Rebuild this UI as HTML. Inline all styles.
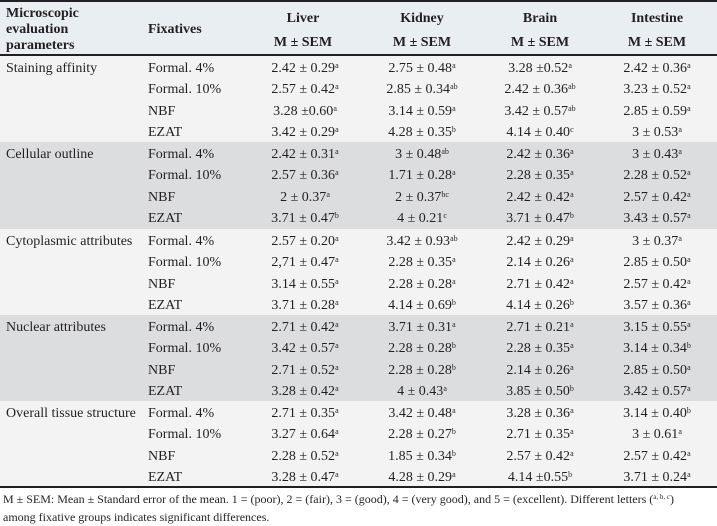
<!DOCTYPE html>
<html><head><meta charset="utf-8"><style>
*{margin:0;padding:0;box-sizing:border-box}
body{width:717px;height:525px;background:#fff;font-family:"Liberation Serif",serif;color:#231f20;position:relative;overflow:hidden;font-size:14px}
.top{position:absolute;left:0;top:0;width:717px;height:2px;background:#231f20}
.hdr{position:absolute;left:0;top:2px;width:717px;height:52px;background:#e9eef3}
.hl{position:absolute;left:0;top:54px;width:717px;height:2px;background:#231f20}
.bl{position:absolute;left:0;top:486px;width:717px;height:2px;background:#231f20}
.b{font-weight:bold}
.a{position:absolute;white-space:nowrap}
.c{position:absolute;text-align:center;width:130px;white-space:nowrap}
.g{position:absolute;left:0;width:717px;height:86.5px}
.g.w{background:#f3f3f4}.g.d{background:#dcdddf}
.g .r{position:relative;height:21.5px;line-height:21.5px}
.g .r:first-child{margin-top:1.5px}
.g .r span{position:absolute;white-space:nowrap}
.p{left:6px}.f{left:148px}
.v{width:130px;text-align:center}
.v1{left:240px}.v2{left:357px}.v3{left:475px}.v4{left:592px}
sup{font-size:8px;vertical-align:4px;line-height:0}
.fn{position:absolute;left:3px;font-size:12px;line-height:18px;top:490px;width:714px}
</style></head><body>
<div class="top"></div><div class="hdr"></div><div class="hl"></div>
<div class="a b" style="left:6px;top:6px;line-height:16px">Microscopic<br>evaluation<br>parameters</div>
<div class="a b" style="left:148px;top:22px;line-height:16px">Fixatives</div>
<div class="c b" style="left:238px;top:11px">Liver</div><div class="c b" style="left:238px;top:35px">M ± SEM</div>
<div class="c b" style="left:357px;top:11px">Kidney</div><div class="c b" style="left:357px;top:35px">M ± SEM</div>
<div class="c b" style="left:475px;top:11px">Brain</div><div class="c b" style="left:475px;top:35px">M ± SEM</div>
<div class="c b" style="left:592px;top:11px">Intestine</div><div class="c b" style="left:592px;top:35px">M ± SEM</div>

<div class="g w" style="top:56px">
<div class="r"><span class="p">Staining affinity</span><span class="f">Formal. 4%</span><span class="v v1">2.42 ± 0.29<sup>a</sup></span><span class="v v2">2.75 ± 0.48<sup>a</sup></span><span class="v v3">3.28 ±0.52<sup>a</sup></span><span class="v v4">2.42 ± 0.36<sup>a</sup></span></div>
<div class="r"><span class="f">Formal. 10%</span><span class="v v1">2.57 ± 0.42<sup>a</sup></span><span class="v v2">2.85 ± 0.34<sup>ab</sup></span><span class="v v3">2.42 ± 0.36<sup>ab</sup></span><span class="v v4">3.23 ± 0.52<sup>a</sup></span></div>
<div class="r"><span class="f">NBF</span><span class="v v1">3.28 ±0.60<sup>a</sup></span><span class="v v2">3.14 ± 0.59<sup>a</sup></span><span class="v v3">3.42 ± 0.57<sup>ab</sup></span><span class="v v4">2.85 ± 0.59<sup>a</sup></span></div>
<div class="r"><span class="f">EZAT</span><span class="v v1">3.42 ± 0.29<sup>a</sup></span><span class="v v2">4.28 ± 0.35<sup>b</sup></span><span class="v v3">4.14 ± 0.40<sup>c</sup></span><span class="v v4">3 ± 0.53<sup>a</sup></span></div>
</div>
<div class="g d" style="top:142px">
<div class="r"><span class="p">Cellular outline</span><span class="f">Formal. 4%</span><span class="v v1">2.42 ± 0.31<sup>a</sup></span><span class="v v2">3 ± 0.48<sup>ab</sup></span><span class="v v3">2.42 ± 0.36<sup>a</sup></span><span class="v v4">3 ± 0.43<sup>a</sup></span></div>
<div class="r"><span class="f">Formal. 10%</span><span class="v v1">2.57 ± 0.36<sup>a</sup></span><span class="v v2">1.71 ± 0.28<sup>a</sup></span><span class="v v3">2.28 ± 0.35<sup>a</sup></span><span class="v v4">2.28 ± 0.52<sup>a</sup></span></div>
<div class="r"><span class="f">NBF</span><span class="v v1">2 ± 0.37<sup>a</sup></span><span class="v v2">2 ± 0.37<sup>bc</sup></span><span class="v v3">2.42 ± 0.42<sup>a</sup></span><span class="v v4">2.57 ± 0.42<sup>a</sup></span></div>
<div class="r"><span class="f">EZAT</span><span class="v v1">3.71 ± 0.47<sup>b</sup></span><span class="v v2">4 ± 0.21<sup>c</sup></span><span class="v v3">3.71 ± 0.47<sup>b</sup></span><span class="v v4">3.43 ± 0.57<sup>a</sup></span></div>
</div>
<div class="g w" style="top:229px">
<div class="r"><span class="p">Cytoplasmic attributes</span><span class="f">Formal. 4%</span><span class="v v1">2.57 ± 0.20<sup>a</sup></span><span class="v v2">3.42 ± 0.93<sup>ab</sup></span><span class="v v3">2.42 ± 0.29<sup>a</sup></span><span class="v v4">3 ± 0.37<sup>a</sup></span></div>
<div class="r"><span class="f">Formal. 10%</span><span class="v v1">2,71 ± 0.47<sup>a</sup></span><span class="v v2">2.28 ± 0.35<sup>a</sup></span><span class="v v3">2.14 ± 0.26<sup>a</sup></span><span class="v v4">2.85 ± 0.50<sup>a</sup></span></div>
<div class="r"><span class="f">NBF</span><span class="v v1">3.14 ± 0.55<sup>a</sup></span><span class="v v2">2.28 ± 0.28<sup>a</sup></span><span class="v v3">2.71 ± 0.42<sup>a</sup></span><span class="v v4">2.57 ± 0.42<sup>a</sup></span></div>
<div class="r"><span class="f">EZAT</span><span class="v v1">3.71 ± 0.28<sup>a</sup></span><span class="v v2">4.14 ± 0.69<sup>b</sup></span><span class="v v3">4.14 ± 0.26<sup>b</sup></span><span class="v v4">3.57 ± 0.36<sup>a</sup></span></div>
</div>
<div class="g d" style="top:315px">
<div class="r"><span class="p">Nuclear attributes</span><span class="f">Formal. 4%</span><span class="v v1">2.71 ± 0.42<sup>a</sup></span><span class="v v2">3.71 ± 0.31<sup>a</sup></span><span class="v v3">2.71 ± 0.21<sup>a</sup></span><span class="v v4">3.15 ± 0.55<sup>a</sup></span></div>
<div class="r"><span class="f">Formal. 10%</span><span class="v v1">3.42 ± 0.57<sup>a</sup></span><span class="v v2">2.28 ± 0.28<sup>b</sup></span><span class="v v3">2.28 ± 0.35<sup>a</sup></span><span class="v v4">3.14 ± 0.34<sup>b</sup></span></div>
<div class="r"><span class="f">NBF</span><span class="v v1">2.71 ± 0.52<sup>a</sup></span><span class="v v2">2.28 ± 0.28<sup>b</sup></span><span class="v v3">2.14 ± 0.26<sup>a</sup></span><span class="v v4">2.85 ± 0.50<sup>a</sup></span></div>
<div class="r"><span class="f">EZAT</span><span class="v v1">3.28 ± 0.42<sup>a</sup></span><span class="v v2">4 ± 0.43<sup>a</sup></span><span class="v v3">3.85 ± 0.50<sup>b</sup></span><span class="v v4">3.42 ± 0.57<sup>a</sup></span></div>
</div>
<div class="g w" style="top:401px;height:85px">
<div class="r"><span class="p">Overall tissue structure</span><span class="f">Formal. 4%</span><span class="v v1">2.71 ± 0.35<sup>a</sup></span><span class="v v2">3.42 ± 0.48<sup>a</sup></span><span class="v v3">3.28 ± 0.36<sup>a</sup></span><span class="v v4">3.14 ± 0.40<sup>b</sup></span></div>
<div class="r"><span class="f">Formal. 10%</span><span class="v v1">3.27 ± 0.64<sup>a</sup></span><span class="v v2">2.28 ± 0.27<sup>b</sup></span><span class="v v3">2.71 ± 0.35<sup>a</sup></span><span class="v v4">3 ± 0.61<sup>a</sup></span></div>
<div class="r"><span class="f">NBF</span><span class="v v1">2.28 ± 0.52<sup>a</sup></span><span class="v v2">1.85 ± 0.34<sup>b</sup></span><span class="v v3">2.57 ± 0.42<sup>a</sup></span><span class="v v4">2.57 ± 0.42<sup>a</sup></span></div>
<div class="r"><span class="f">EZAT</span><span class="v v1">3.28 ± 0.47<sup>a</sup></span><span class="v v2">4.28 ± 0.29<sup>a</sup></span><span class="v v3">4.14 ±0.55<sup>b</sup></span><span class="v v4">3.71 ± 0.24<sup>a</sup></span></div>
</div>
<div class="bl"></div>
<div class="fn">M ± SEM: Mean ± Standard error of the mean. 1 = (poor), 2 = (fair), 3 = (good), 4 = (very good), and 5 = (excellent). Different letters (<sup style="font-size:7px">a, b, c</sup>)<br>among fixative groups indicates significant differences.</div>
</body></html>
